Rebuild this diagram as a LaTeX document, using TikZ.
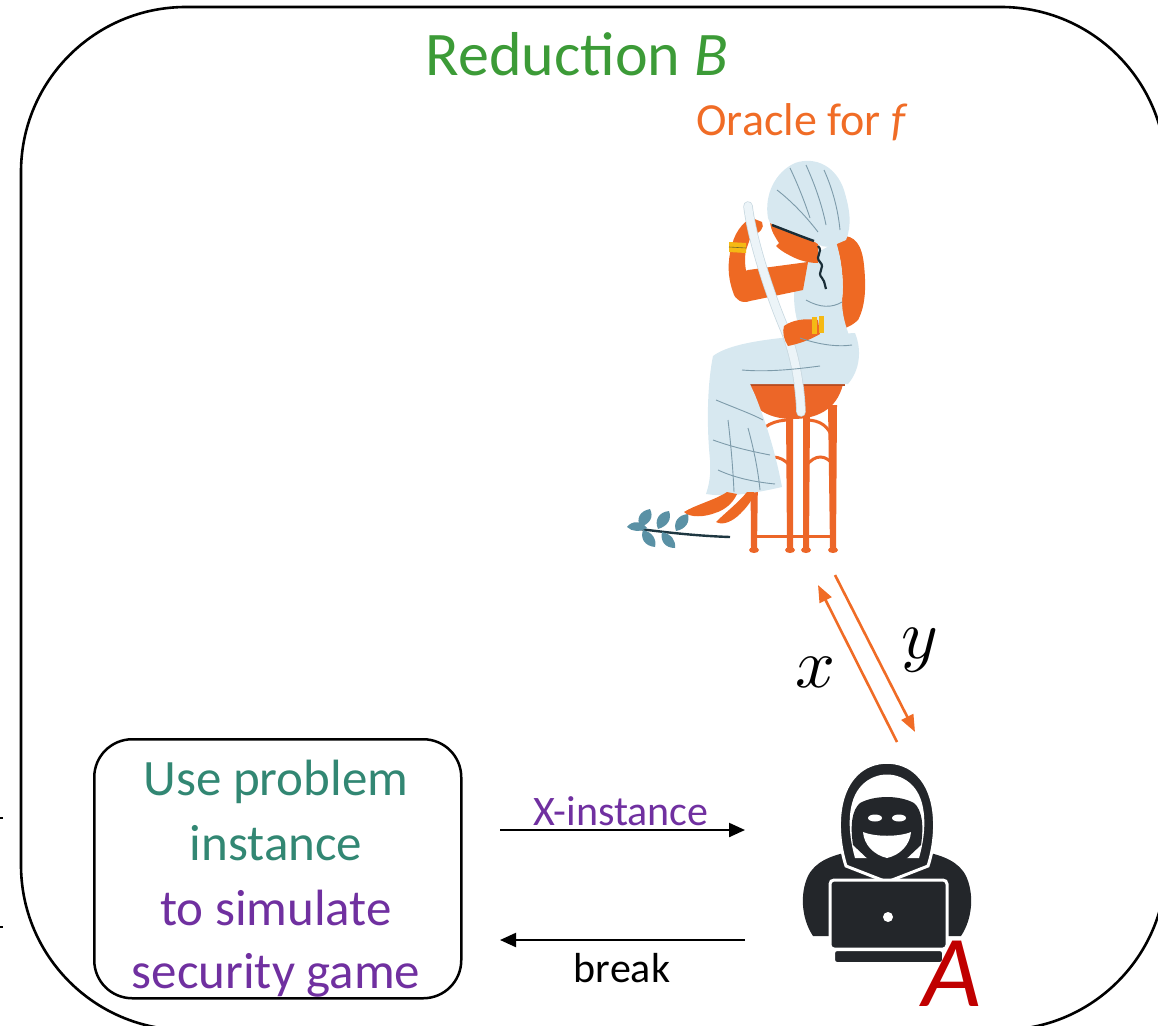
\documentclass[tikz,border=0pt]{standalone}
\usepackage{fontspec}
\setmainfont{Carlito}
\usetikzlibrary{arrows.meta}
\definecolor{titlegreen}{RGB}{60,155,55}
\definecolor{orangec}{RGB}{240,108,38}
\definecolor{tealc}{RGB}{50,135,115}
\definecolor{purplec}{RGB}{112,48,160}
\definecolor{redA}{RGB}{192,0,0}
\definecolor{hackc}{RGB}{35,38,42}
\definecolor{sari}{RGB}{215,232,240}
\definecolor{fold}{RGB}{125,155,170}
\definecolor{skin}{RGB}{238,105,35}
\definecolor{stoolc}{RGB}{236,102,40}
\definecolor{stooldark}{RGB}{185,75,30}
\definecolor{bangle}{RGB}{245,185,20}
\definecolor{hairc}{RGB}{25,45,55}
\definecolor{paperc}{RGB}{236,244,248}
\definecolor{paperedge}{RGB}{200,216,224}
\definecolor{leafc}{RGB}{90,145,165}
\definecolor{stemc}{RGB}{30,55,65}
\begin{document}
\begin{tikzpicture}[x=1pt,y=-1pt,
  lbl/.style={inner sep=0pt, anchor=base},
  boxtext/.style={lbl, font=\fontsize{51}{60}\selectfont},
  flowarrow/.style={line width=2.2pt, -{Triangle[length=16pt,width=14pt]}},
  oraclearrow/.style={draw=orangec, line width=2.6pt, -{Triangle[length=17pt,width=13pt]}},
  foldline/.style={draw=fold, line width=0.9pt},
  leaf/.style={fill=leafc},
]
\useasboundingbox (0,0) rectangle (1158,1025);

% outer frame of the reduction
\draw[line width=2.6pt, rounded corners=165pt] (21,7) rectangle (1166,1030);
\draw[line width=1.5pt] (0,818) -- (3,818);
\draw[line width=1.5pt] (0,927) -- (3,927);

% titles
\node[lbl, text=titlegreen, font=\fontsize{62}{70}\selectfont] (title) at (577,75) {Reduction \textit{B}};
\node[lbl, text=orangec, font=\fontsize{46}{54}\selectfont] (oracle) at (802,135) {Oracle for \textit{f}};

% ---------- oracle figure ----------
% branch on the floor
\draw[stemc, line width=2.4pt] (632,528) .. controls (670,533) and (700,536) .. (730,537);
\path[leaf] (627,527) .. controls (632,520) and (642,521) .. (647,528) .. controls (640,532) and (632,532) .. (627,527) -- cycle;
\path[leaf] (640,527) .. controls (636,518) and (640,511) .. (650,509) .. controls (654,517) and (650,524) .. (640,527) -- cycle;
\path[leaf] (658,529) .. controls (654,520) and (659,512) .. (669,511) .. controls (672,519) and (668,526) .. (658,529) -- cycle;
\path[leaf] (676,531) .. controls (673,522) and (678,515) .. (688,514) .. controls (690,522) and (686,529) .. (676,531) -- cycle;
\path[leaf] (643,530) .. controls (640,539) and (645,546) .. (655,547) .. controls (657,539) and (652,532) .. (643,530) -- cycle;
\path[leaf] (662,532) .. controls (660,541) and (665,548) .. (675,548) .. controls (676,540) and (671,534) .. (662,532) -- cycle;

% stool
\begin{scope}[stoolc]
  \fill (750,405) -- (759,405) -- (757,548) -- (751,548) -- cycle;
  \fill (786,412) -- (793,412) -- (793,548) -- (787,548) -- cycle;
  \fill (803,412) -- (810,412) -- (809,548) -- (803,548) -- cycle;
  \fill (828,405) -- (837,405) -- (836,548) -- (830,548) -- cycle;
  \fill (754,550) ellipse (5 and 3);
  \fill (790,550) ellipse (5 and 3);
  \fill (806,550) ellipse (5 and 3);
  \fill (833,550) ellipse (5 and 3);
  \draw[line width=3pt] (755,440) .. controls (762,425) and (775,420) .. (790,420);
  \draw[line width=3pt] (806,420) .. controls (820,420) and (829,426) .. (833,440);
  \draw[line width=3pt] (755,466) .. controls (765,454) and (781,454) .. (790,466);
  \draw[line width=3pt] (806,466) .. controls (815,454) and (826,454) .. (834,466);
  \draw[line width=3pt] (753,536) -- (835,536);
  \fill (743,384) .. controls (750,410) and (770,419) .. (793,419)
        .. controls (816,419) and (837,410) .. (843,384) -- cycle;
\end{scope}
\fill[stooldark] (741,381) rectangle (845,386);

% back arm
\fill[skin] (841,236) .. controls (855,235) and (862,245) .. (864,265)
  .. controls (866,285) and (866,305) .. (858,320)
  .. controls (850,328) and (838,331) .. (825,333) -- (820,318)
  .. controls (832,314) and (839,309) .. (842,299)
  .. controls (844,285) and (842,260) .. (836,244) -- cycle;

% lap and skirt
\fill[sari] (800,336) .. controls (770,339) and (730,343) .. (713,356)
  .. controls (708,380) and (706,420) .. (710,460)
  .. controls (711,475) and (709,485) .. (706,494)
  .. controls (730,498) and (760,492) .. (782,487)
  .. controls (775,450) and (765,420) .. (755,395)
  -- (750,384) -- (848,384)
  .. controls (860,370) and (862,350) .. (855,333) -- cycle;

% feet
\fill[skin] (727,492) .. controls (715,500) and (695,505) .. (684,512)
  .. controls (690,518) and (705,517) .. (715,513)
  .. controls (725,510) and (733,503) .. (737,494) -- cycle;
\fill[skin] (747,492) .. controls (738,503) and (726,512) .. (716,522)
  .. controls (723,526) and (733,521) .. (740,514)
  .. controls (747,507) and (753,500) .. (754,492) -- cycle;

% torso
\fill[sari] (808,258) .. controls (792,275) and (792,300) .. (797,320)
  .. controls (798,330) and (795,340) .. (788,346) -- (852,346)
  .. controls (848,330) and (842,320) .. (842,300)
  .. controls (844,285) and (842,260) .. (836,242) -- cycle;

% face and neck
\fill[skin] (770,222) -- (818,240) -- (818,263)
  .. controls (806,263) and (796,259) .. (789,255)
  .. controls (783,252) and (779,249) .. (776,246) -- (779,243)
  .. controls (775,237) and (771,231) .. (770,222) -- cycle;

% veil
\fill[sari] (768,218) .. controls (764,195) and (775,172) .. (795,163)
  .. controls (815,156) and (836,166) .. (844,190)
  .. controls (850,210) and (852,225) .. (846,240)
  -- (832,246) .. controls (825,248) and (820,246) .. (815,242)
  .. controls (800,236) and (785,230) .. (770,223) -- cycle;
\draw[hairc, line width=2.4pt] (772,225) .. controls (785,230) and (800,236) .. (814,241);
\draw[hairc, line width=2.2pt] (818,246) .. controls (824,252) and (814,256) .. (820,262)
  .. controls (826,268) and (816,272) .. (822,278) .. controls (826,283) and (824,286) .. (826,289);

% raised arm
\fill[skin] (808,262) -- (748,270) .. controls (738,273) and (732,282) .. (733,292)
  .. controls (735,300) and (742,304) .. (750,301) -- (803,290) -- cycle;
\fill[skin] (733,292) .. controls (727,275) and (728,262) .. (731,248)
  -- (746,248) .. controls (744,262) and (745,272) .. (750,282) -- cycle;
\fill[skin] (731,250) .. controls (733,235) and (742,222) .. (752,218)
  -- (762,222) .. controls (765,228) and (760,233) .. (751,236) -- (746,250) -- cycle;
\fill[bangle] (729,242) -- (746,243) -- (746,253) -- (729,252) -- cycle;
\draw[hairc!60!bangle, line width=0.6pt] (729,247) -- (746,248);

% paper strip held by both hands
\draw[paperedge, line width=9.5pt, line cap=round] (748,206) .. controls (752,240) and (770,295) .. (785,330)
  .. controls (795,355) and (800,385) .. (801,412);
\draw[paperc, line width=8pt, line cap=round] (748,206) .. controls (752,240) and (770,295) .. (785,330)
  .. controls (795,355) and (800,385) .. (801,412);

% hand on the lap with bangles
\fill[skin] (784,326) .. controls (792,320) and (805,318) .. (818,320)
  -- (820,334) .. controls (810,340) and (798,344) .. (788,346)
  .. controls (784,340) and (782,332) .. (784,326) -- cycle;
\fill[bangle] (812,317) rectangle (817,334);
\fill[bangle] (819,316) rectangle (824,333);

% sari folds
\draw[foldline] (790,168) .. controls (798,185) and (804,200) .. (810,218);
\draw[foldline] (806,165) .. controls (815,185) and (822,205) .. (826,225);
\draw[foldline] (824,170) .. controls (833,190) and (838,210) .. (840,230);
\draw[foldline] (777,190) .. controls (790,200) and (805,215) .. (818,232);
\draw[foldline] (806,300) .. controls (820,308) and (832,308) .. (842,302);
\draw[foldline] (800,338) .. controls (820,345) and (838,347) .. (852,345);
\draw[foldline] (716,400) .. controls (735,408) and (752,414) .. (763,420);
\draw[foldline] (713,440) .. controls (735,448) and (755,452) .. (770,455);
\draw[foldline] (728,420) .. controls (731,445) and (733,470) .. (734,492);
\draw[foldline] (748,428) .. controls (754,450) and (758,470) .. (760,490);
\draw[foldline] (718,470) .. controls (735,478) and (755,482) .. (775,484);
\draw[foldline] (742,370) .. controls (765,372) and (790,370) .. (820,366);

% ---------- adversary ----------
\coordinate (adv) at (887,860);
\fill[hackc] (830,936) -- (813,936) .. controls (801,918) and (800,893) .. (808,876)
  .. controls (815,862) and (830,856) .. (848,852) -- (926,852)
  .. controls (944,856) and (959,862) .. (966,876)
  .. controls (974,893) and (973,918) .. (961,936) -- (944,936) -- cycle;
\filldraw[fill=hackc, draw=white, line width=3pt] (846,866) .. controls (836,835) and (836,795) .. (856,775)
  .. controls (872,758) and (902,758) .. (918,775)
  .. controls (938,795) and (938,835) .. (928,866) -- (887,882) -- cycle;
\fill[white] (855,858) .. controls (847,830) and (847,800) .. (862,785)
  .. controls (876,771) and (898,771) .. (912,785)
  .. controls (927,800) and (927,830) .. (919,858) -- cycle;
\fill[hackc] (853,845) .. controls (850,825) and (852,810) .. (860,803)
  .. controls (875,795) and (899,795) .. (914,803)
  .. controls (922,810) and (924,825) .. (921,845) -- (887,877) -- cycle;
\fill[white] (875,818) ellipse (7 and 3.5);
\fill[white] (899,818) ellipse (7 and 3.5);
\fill[white] (863,832) .. controls (875,837) and (899,837) .. (911,832)
  .. controls (910,845) and (900,855) .. (887,858)
  .. controls (874,855) and (864,845) .. (863,832) -- cycle;
\filldraw[fill=hackc, draw=white, line width=3pt, rounded corners=4pt] (830,880) rectangle (947,949);
\filldraw[fill=hackc, draw=white, line width=2pt, rounded corners=3pt] (834,950) rectangle (943,963);
\fill[white] (888,917) circle (5);
\node[lbl, text=redA, font=\fontsize{102}{110}\selectfont\itshape] (advname) at (952,1006) {A};

% ---------- oracle queries ----------
\coordinate (qx-s) at (897,742);
\coordinate (qx-e) at (818,585);
\coordinate (qy-s) at (835,575);
\coordinate (qy-e) at (915,732);
\draw[oraclearrow] (qx-s) -- (qx-e);
\draw[oraclearrow] (qy-s) -- (qy-e);
\node[lbl, scale=7] (xlab) at (815,687) {$x$};
\node[lbl, scale=7] (ylab) at (920,658) {$y$};

% ---------- simulation box ----------
\node[draw, line width=2.5pt, rounded corners=38pt, minimum width=367pt, minimum height=259pt,
      inner sep=0pt, anchor=north west] (sim) at (93,738) {};
\node[boxtext, text=tealc] (l1) at (276,795) {Use problem};
\node[boxtext, text=tealc] (l2) at (276,860) {instance};
\node[boxtext, text=purplec] (l3) at (276,925) {to simulate};
\node[boxtext, text=purplec] (l4) at (276,988) {security game};

% ---------- game messages ----------
\coordinate (xi-s) at (500,830);
\coordinate (xi-e) at (745,830);
\coordinate (br-s) at (745,940);
\coordinate (br-e) at (500,940);
\draw[flowarrow] (xi-s) -- (xi-e);
\draw[flowarrow] (br-s) -- (br-e);
\node[lbl, text=purplec, font=\fontsize{42}{48}\selectfont] (xinst) at (621,825) {X-instance};
\node[lbl, font=\fontsize{42}{48}\selectfont] (brk) at (622,982) {break};
\end{tikzpicture}
\end{document}
